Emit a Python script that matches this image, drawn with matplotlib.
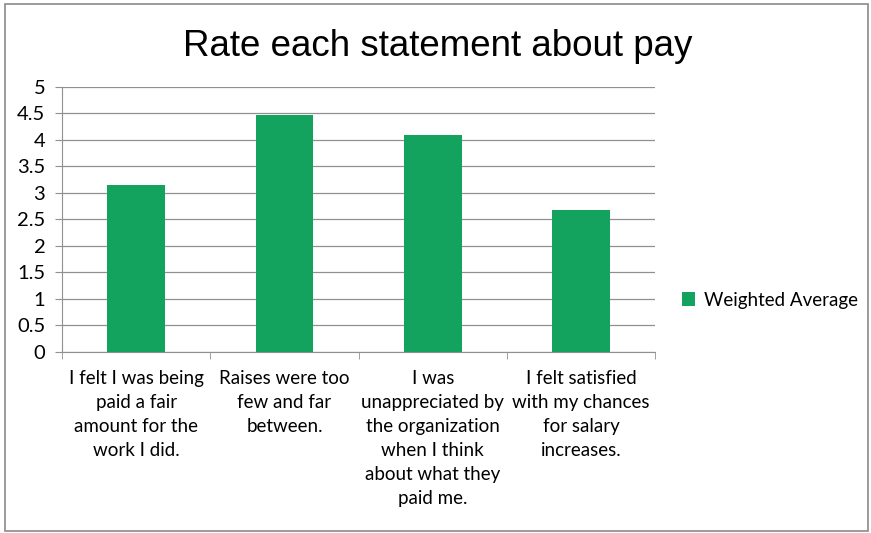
"""Bar chart - Rate each statement about pay"""

import matplotlib
matplotlib.use("Agg")
import matplotlib.pyplot as plt
from matplotlib.patches import Rectangle

# Survey statements (x labels, already wrapped) and their weighted averages
statements = [
    "I felt I was being\npaid a fair\namount for the\nwork I did.",
    "Raises were too\nfew and far\nbetween.",
    "I was\nunappreciated by\nthe organization\nwhen I think\nabout what they\npaid me.",
    "I felt satisfied\nwith my chances\nfor salary\nincreases.",
]
weighted_avg = [3.15, 4.48, 4.09, 2.68]
y_ticks = [0, 0.5, 1, 1.5, 2, 2.5, 3, 3.5, 4, 4.5, 5]
y_tick_labels = ["0", "0.5", "1", "1.5", "2", "2.5", "3", "3.5", "4", "4.5", "5"]

BAR_COLOR = "#14a35f"
LABEL_FONT = ["Lato", "DejaVu Sans"]


def plot_chart():
    fig = plt.figure(figsize=(8.71, 5.33), dpi=100)
    ax = fig.add_axes([0.0712, 0.3396, 0.681, 0.4972])

    x = list(range(len(statements)))
    ax.bar(x, weighted_avg, width=0.39, color=BAR_COLOR,
           label="Weighted Average", zorder=3)

    ax.set_xlim(-0.5, len(statements) - 0.5)
    ax.set_ylim(0, 5)
    ax.set_yticks(y_ticks)
    ax.set_yticklabels(y_tick_labels, fontsize=14.5, family=LABEL_FONT)
    ax.yaxis.grid(True, color="#909090", linewidth=0.9)
    ax.set_axisbelow(True)

    # category labels sit between minor ticks at the category boundaries
    ax.set_xticks(x)
    ax.set_xticklabels(statements, fontsize=13.5, family=LABEL_FONT,
                       linespacing=1.5)
    ax.set_xticks([i - 0.5 for i in range(len(statements) + 1)], minor=True)
    ax.tick_params(axis="x", which="major", length=0, pad=13)
    ax.tick_params(axis="x", which="minor", length=5, color="#909090")
    ax.tick_params(axis="y", length=5, color="#909090", pad=7)

    for side in ["top", "right"]:
        ax.spines[side].set_visible(False)
    ax.spines["left"].set_color("#909090")
    ax.spines["bottom"].set_color("#909090")

    fig.text(0.503, 0.912, "Rate each statement about pay", ha="center",
             va="center", fontsize=26.5, family="Liberation Sans")

    fig.legend(loc="center left", bbox_to_anchor=(0.768, 0.437),
               frameon=False, prop={"family": LABEL_FONT, "size": 13.5},
               handlelength=0.7, handleheight=0.7, handletextpad=0.45,
               borderpad=0.2)

    # outer chart border
    fig.patches.append(Rectangle((0.006, 0.003), 0.99, 0.99,
                                 transform=fig.transFigure, fill=False,
                                 edgecolor="#8a8a8a", linewidth=1.2))

    fig.savefig("out.png", dpi=100)


if __name__ == "__main__":
    plot_chart()
